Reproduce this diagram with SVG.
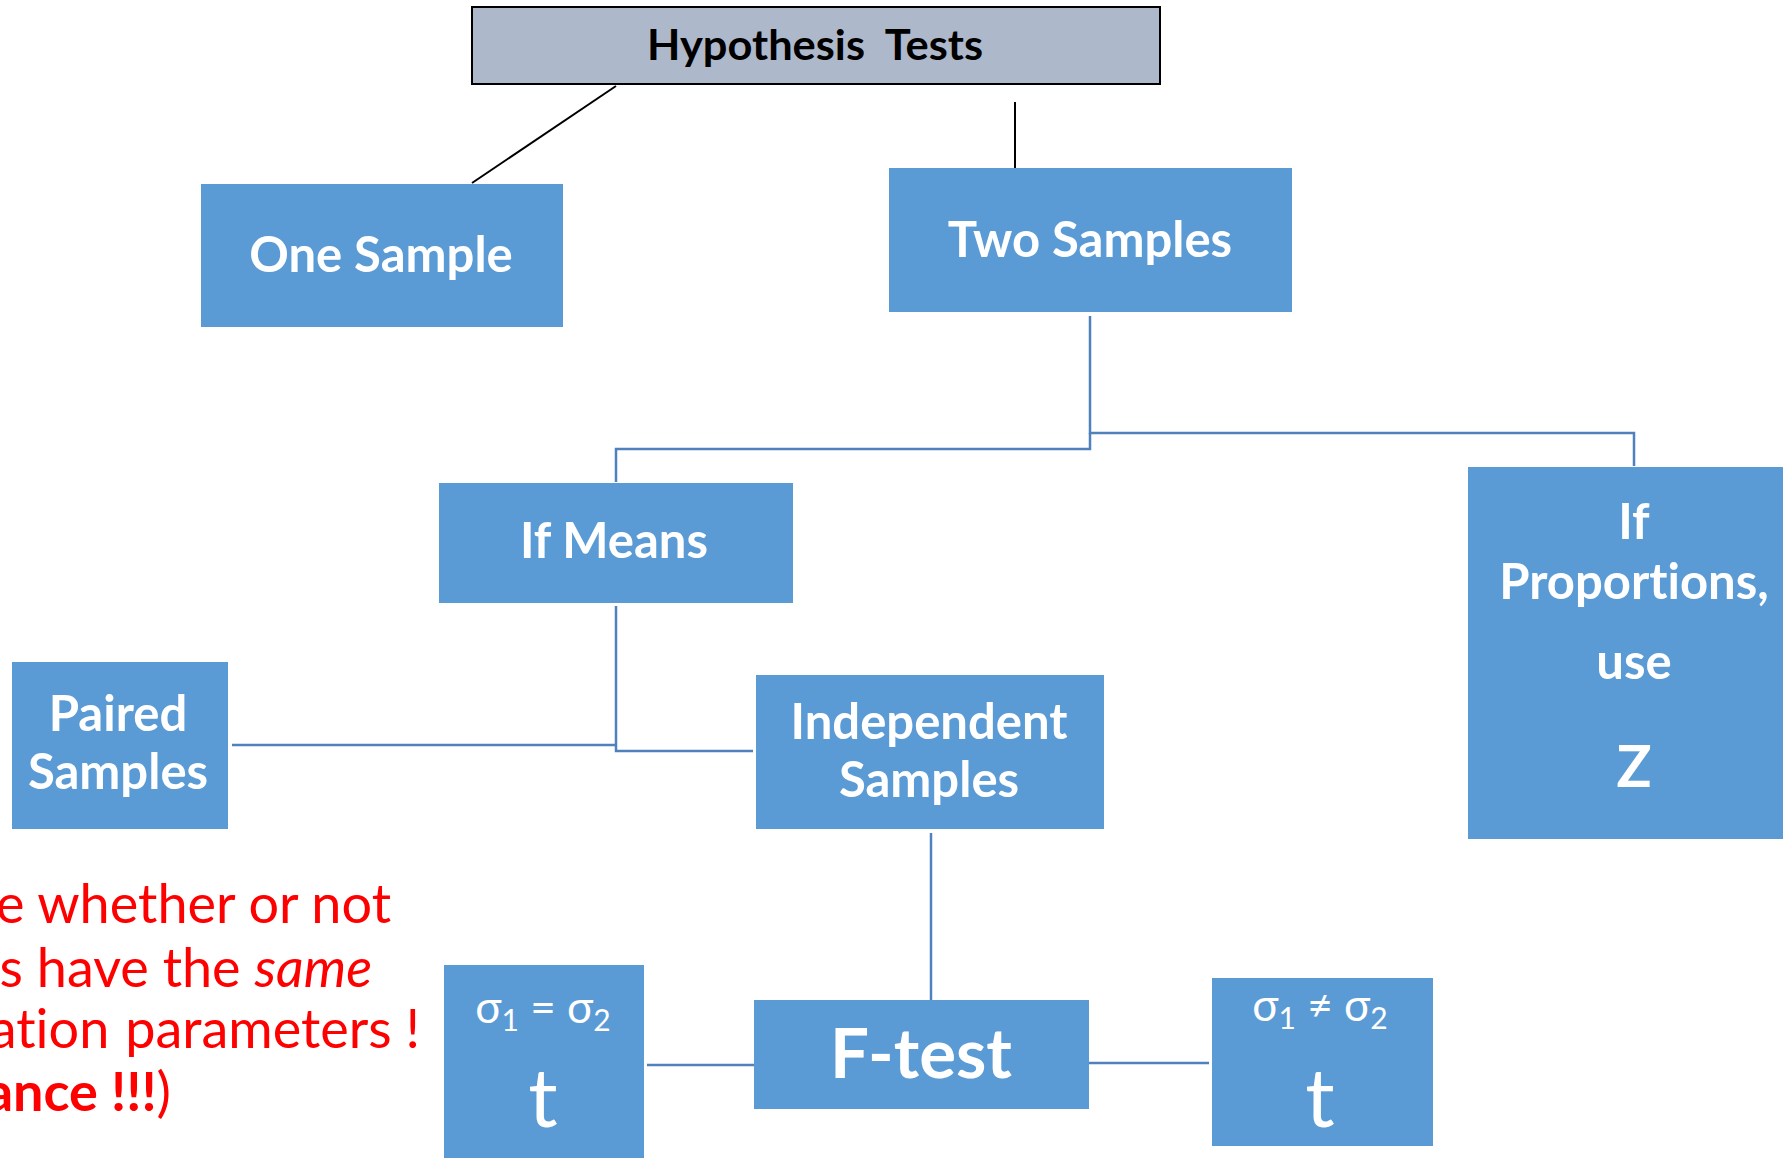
<svg xmlns="http://www.w3.org/2000/svg" width="1783" height="1158" viewBox="0 0 1783 1158">
<style>
text{font-variant-ligatures:none;white-space:pre;}
.box{fill:#5B9BD5;}
.lbl{font-family:Lato,"Open Sans",sans-serif;font-weight:bold;fill:#fff;text-anchor:middle;font-size:49px;}
.sig{font-family:Lato,"Open Sans",sans-serif;fill:#fff;text-anchor:middle;font-size:44px;}
.big{font-family:Lato,"Open Sans",sans-serif;fill:#fff;text-anchor:middle;font-size:82px;}
.red{font-family:Lato,"Open Sans",sans-serif;fill:#FF0000;font-size:54px;text-anchor:end;}
.bl{stroke:#4F81BD;stroke-width:2.5;fill:none;}
.k{stroke:#000;stroke-width:2;fill:none;}
</style>
<rect width="1783" height="1158" fill="#fff"/>
<g id="connectors">
<line class="k" x1="616" y1="86" x2="472" y2="183"/>
<line class="k" x1="1015" y1="102" x2="1015" y2="168"/>
<polyline class="bl" points="1090,316 1090,433 1634,433 1634,466"/>
<polyline class="bl" points="1090,433 1090,449 616,449 616,482"/>
<polyline class="bl" points="616,606 616,751 753,751"/>
<line class="bl" x1="232" y1="745" x2="616" y2="745"/>
<line class="bl" x1="931" y1="833" x2="931" y2="1000"/>
<line class="bl" x1="647" y1="1065" x2="754" y2="1065"/>
<line class="bl" x1="1089" y1="1063" x2="1209" y2="1063"/>
</g>
<g id="hypothesis-tests">
<rect x="472" y="7" width="688" height="77" fill="#ADB9CA" stroke="#000" stroke-width="2"/>
<text x="815" y="60" font-family="Lato,'Open Sans',sans-serif" font-weight="bold" font-size="42" text-anchor="middle" fill="#000" textLength="336" lengthAdjust="spacingAndGlyphs">Hypothesis  Tests</text>
</g>
<g id="one-sample">
<rect class="box" x="201" y="184" width="362" height="143"/>
<text class="lbl" x="381" y="272">One Sample</text>
</g>
<g id="two-samples">
<rect class="box" x="889" y="168" width="403" height="144"/>
<text class="lbl" x="1090" y="257">Two Samples</text>
</g>
<g id="if-means">
<rect class="box" x="439" y="483" width="354" height="120"/>
<text class="lbl" x="614" y="558">If Means</text>
</g>
<g id="if-proportions">
<rect class="box" x="1468" y="467" width="320" height="372"/>
<text class="lbl" x="1634" y="539">If</text>
<text class="lbl" x="1634" y="599">Proportions,</text>
<text class="lbl" x="1634" y="679">use</text>
<text class="lbl" x="1634" y="787" style="font-size:58px">Z</text>
</g>
<g id="paired-samples">
<rect class="box" x="12" y="662" width="216" height="167"/>
<text class="lbl" x="118" y="731">Paired</text>
<text class="lbl" x="118" y="789">Samples</text>
</g>
<g id="independent-samples">
<rect class="box" x="756" y="675" width="348" height="154"/>
<text class="lbl" x="929" y="739">Independent</text>
<text class="lbl" x="929" y="797">Samples</text>
</g>
<g id="f-test">
<rect class="box" x="754" y="1000" width="335" height="109"/>
<text class="lbl" x="921" y="1078" style="font-size:69px">F-test</text>
</g>
<g id="equal-var">
<rect class="box" x="444" y="965" width="200" height="193"/>
<text class="sig" x="543" y="1023">σ<tspan font-size="30" dy="8">1</tspan><tspan dy="-8"> = σ</tspan><tspan font-size="30" dy="8">2</tspan></text>
<text class="big" x="543" y="1127">t</text>
</g>
<g id="unequal-var">
<rect class="box" x="1212" y="978" width="221" height="168"/>
<text class="sig" x="1320" y="1021">σ<tspan font-size="30" dy="8">1</tspan><tspan dy="-8"> ≠ σ</tspan><tspan font-size="30" dy="8">2</tspan></text>
<text class="big" x="1320" y="1127">t</text>
</g>
<g id="note">
<text class="red" x="391" y="923">e whether or not</text>
<text class="red" x="372" y="987">s have the <tspan font-style="italic">same</tspan></text>
<text class="red" x="420" y="1048">ation <tspan dx="2">parameters !</tspan></text>
<text class="red" x="171" y="1111"><tspan font-weight="bold">ance !!!</tspan>)</text>
</g>
</svg>
